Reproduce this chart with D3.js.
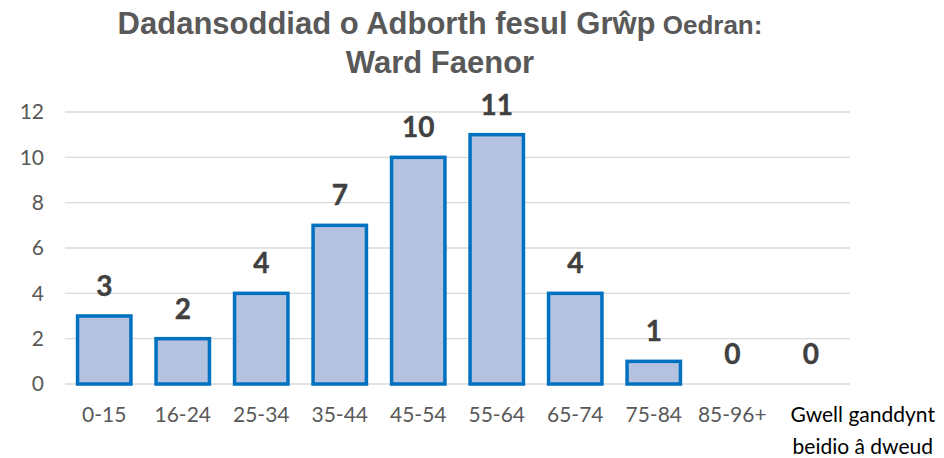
<!DOCTYPE html>
<html>
<head>
<meta charset="utf-8">
<script src="https://cdn.jsdelivr.net/npm/d3@7"></script>
<style>
  html, body { margin: 0; padding: 0; background: #fff; }
  svg { display: block; }
</style>
</head>
<body>
<svg id="chart" width="944" height="458"></svg>
<script>
// Age groups and number of responses in each
const categories = ["0-15", "16-24", "25-34", "35-44", "45-54", "55-64", "65-74", "75-84", "85-96+", "Gwell ganddynt beidio â dweud"];
const values = [3, 2, 4, 7, 10, 11, 4, 1, 0, 0];
const yTicks = [0, 2, 4, 6, 8, 10, 12];
const titleMain = "Dadansoddiad o Adborth fesul Grŵp";
const titleSmall = " Oedran:";
const titleLine2 = "Ward Faenor";

const svg = d3.select("#chart");
const margin = { left: 65, right: 94, top: 112, bottom: 74 };
const W = 944, H = 458;
const bodyFont = "Lato, 'Open Sans', sans-serif";

const x = d3.scaleBand()
  .domain(categories)
  .range([margin.left, W - margin.right])
  .paddingInner(0.32)
  .paddingOuter(0.16);

const y = d3.scaleLinear()
  .domain([0, 12])
  .range([H - margin.bottom, margin.top]);

// Gridlines
svg.append("g")
  .selectAll("line")
  .data(yTicks)
  .join("line")
  .attr("x1", margin.left)
  .attr("x2", W - margin.right)
  .attr("y1", d => y(d))
  .attr("y2", d => y(d))
  .attr("stroke", "#d9d9d9")
  .attr("stroke-width", 1.3);

// Y axis labels
const yAxis = d3.axisLeft(y).tickValues(yTicks).tickSize(0).tickPadding(0);
const gy = svg.append("g")
  .attr("transform", `translate(${margin.left - 21},0)`)
  .call(yAxis);
gy.select(".domain").remove();
gy.selectAll("text")
  .attr("font-family", bodyFont)
  .attr("font-size", 21)
  .attr("fill", "#595959");

// X axis labels
const xAxis = d3.axisBottom(x).tickSize(0).tickPadding(0);
const gx = svg.append("g")
  .attr("transform", `translate(0,${y(0) + 38})`)
  .call(xAxis);
gx.select(".domain").remove();
gx.selectAll("text")
  .attr("font-family", bodyFont)
  .attr("font-size", 21)
  .attr("fill", "#595959")
  .attr("dy", "0")
  .each(function (d, i) {
    const t = d3.select(this);
    if (i === categories.length - 1) {
      // Wrap the long category name onto two lines, nudged right of its slot
      const words = d.split(" ");
      const lines = [words.slice(0, 2).join(" "), words.slice(2).join(" ")];
      t.text(null).attr("fill", "#000");
      lines.forEach((ln, k) => {
        t.append("tspan")
          .attr("x", 52)
          .attr("dy", k === 0 ? 0 : 32)
          .text(ln);
      });
    }
  });

// Bars
svg.append("g")
  .selectAll("rect")
  .data(values.map((v, i) => ({ c: categories[i], v })))
  .join("rect")
  .filter(d => d.v > 0)
  .attr("x", d => x(d.c))
  .attr("y", d => y(d.v))
  .attr("width", x.bandwidth())
  .attr("height", d => y(0) - y(d.v))
  .attr("fill", "#b4c2e0")
  .attr("stroke", "#0070c0")
  .attr("stroke-width", 3.5);

// Value labels
svg.append("g")
  .selectAll("text")
  .data(values.map((v, i) => ({ c: categories[i], v })))
  .join("text")
  .attr("x", d => x(d.c) + x.bandwidth() / 2)
  .attr("y", d => y(d.v) - 20)
  .attr("text-anchor", "middle")
  .attr("font-family", bodyFont)
  .attr("font-weight", "bold")
  .attr("font-size", 28)
  .attr("fill", "#404040")
  .attr("stroke", "#404040")
  .attr("stroke-width", 0.4)
  .text(d => d.v);

// Title
const title = svg.append("text")
  .attr("x", 440)
  .attr("y", 34)
  .attr("text-anchor", "middle")
  .attr("font-family", "'Liberation Sans', Arial, sans-serif")
  .attr("font-weight", "bold")
  .attr("font-size", 31)
  .attr("fill", "#595959");
title.append("tspan").text(titleMain);
title.append("tspan").attr("font-size", 26).text(titleSmall);

svg.append("text")
  .attr("x", 440)
  .attr("y", 73)
  .attr("text-anchor", "middle")
  .attr("font-family", "'Liberation Sans', Arial, sans-serif")
  .attr("font-weight", "bold")
  .attr("font-size", 31)
  .attr("fill", "#595959")
  .text(titleLine2);
</script>
</body>
</html>
